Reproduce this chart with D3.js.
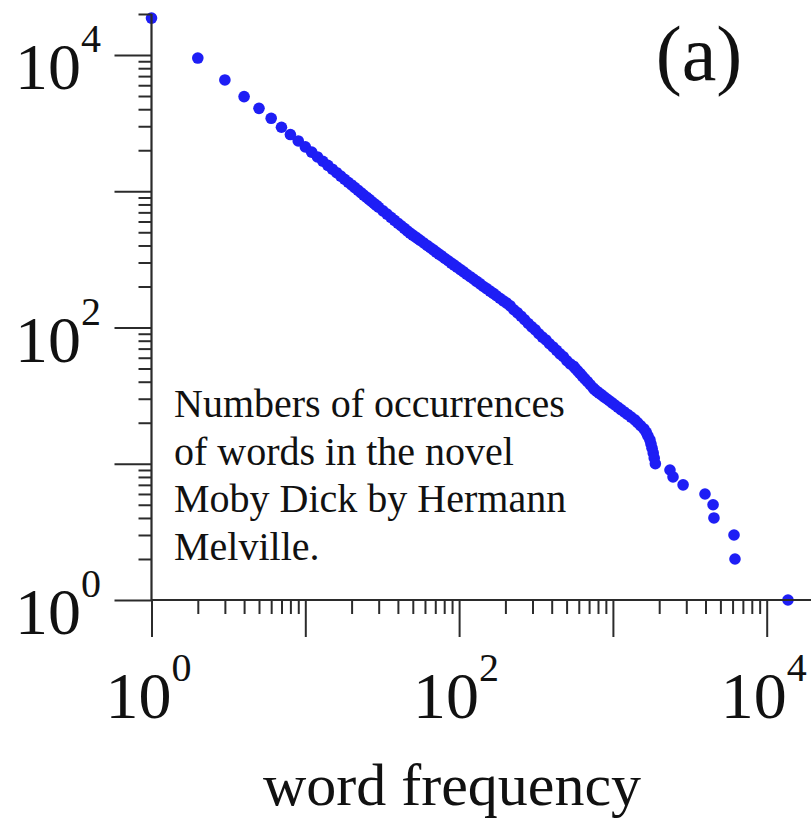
<!DOCTYPE html>
<html>
<head>
<meta charset="utf-8">
<script src="https://cdn.jsdelivr.net/npm/d3@7"></script>
<style>
  html, body { margin: 0; padding: 0; background: #fff; }
  svg { display: block; }
  text { font-family: "Liberation Serif", "DejaVu Serif", serif; fill: #111; }
</style>
</head>
<body>
<svg id="chart" width="811" height="837"></svg>
<script>
// Word frequency x and number of distinct words occurring at least x times (Moby Dick)
const freq = [
  1, 2, 3, 4, 5, 6, 7, 8, 9, 10,
  11, 12, 13, 14, 15, 16, 17, 18, 19, 20,
  21, 22, 23, 24, 25, 26, 27, 28, 29, 30,
  32, 34, 36, 38, 40, 42, 44, 46, 48, 50,
  52, 54, 56, 59, 62, 65, 68, 71, 74, 77,
  81, 85, 89, 93, 97, 102, 107, 112, 118, 124,
  130, 137, 144, 151, 159, 167, 175, 184, 194, 204,
  215, 227, 240, 253, 267, 282, 297, 313, 330, 348,
  367, 387, 408, 430, 453, 477, 502, 528, 555, 571,
  590, 611, 633, 657, 684, 713, 744, 761, 786, 814,
  844, 876, 911, 948, 988, 1031, 1078, 1129, 1185, 1246,
  1314, 1388, 1450, 1517, 1592, 1646, 1690, 1740, 1768, 1797,
  1829, 1857, 1888, 2350, 2460, 2860, 3970, 4480, 4540, 6130,
  6220, 13750
];
const words = [
  18650, 9500, 6560, 4950, 4060, 3430, 2950, 2606, 2339, 2118,
  1937, 1786, 1660, 1549, 1452, 1368, 1292, 1225, 1164, 1112,
  1063, 1018, 976, 938, 904, 871, 841, 813, 787, 763,
  718, 679, 644, 612, 583, 558, 534, 512, 493, 477,
  462, 448, 435, 417, 400, 385, 371, 358, 346, 335,
  321, 309, 297, 287, 277, 266, 256, 246, 236, 227,
  218, 209, 200, 193, 185, 178, 171, 164, 157, 151,
  144, 135, 128, 121, 114, 107, 101, 96, 90, 85,
  81, 76, 72, 68, 64, 61, 57, 54, 52, 50,
  48, 46, 44, 42, 40, 38, 36, 35, 34, 33,
  32, 31, 30, 29, 28, 27, 26, 25, 24, 23,
  22, 21, 20, 19, 18, 17, 16, 15, 14, 13,
  12, 11, 10, 9, 8, 7, 6, 5, 4, 3,
  2, 1
];

// Decades that carry a power-of-ten label
const xLabelDecades = [0, 2, 4];
const yLabelDecades = [0, 2, 4];
const xAxisTitle = "word frequency";
const panelTag = "(a)";
const noteLines = [
  "Numbers of occurrences",
  "of words in the novel",
  "Moby Dick by Hermann",
  "Melville."
];

const svg = d3.select("#chart");
const W = 811;

const x = d3.scaleLog().domain([1, 1e4]).range([151.5, 766.7]);
const y = d3.scaleLog().domain([1, 1e4]).range([600, 55]);

const axisColor = "#2b2b2b";

// minor and major tick values for log axes
function logTicks(lo, hi) {
  const major = [], minor = [];
  for (let e = lo; e <= hi; e++) {
    for (let k = 1; k <= 9; k++) {
      const v = k * Math.pow(10, e);
      if (k === 1) major.push(v); else minor.push(v);
    }
  }
  return { major, minor };
}

const xt = logTicks(0, 3);
xt.major.push(1e4);
const yt = logTicks(0, 3);
yt.major.push(1e4);
yt.minor.push(2e4);

const data = freq.map((f, i) => ({ f, n: words[i] }));

// points
svg.append("g")
  .selectAll("circle")
  .data(data)
  .join("circle")
  .attr("cx", d => x(d.f))
  .attr("cy", d => y(d.n))
  .attr("r", 5.8)
  .attr("fill", "#1e1ef5");

// axes
function styleAxis(g) {
  g.select(".domain").remove();
  g.selectAll(".tick line").attr("stroke", axisColor).attr("stroke-width", 2);
  g.selectAll(".tick text").remove();
}

const x0 = x(1), y0 = y(1);

svg.append("g").attr("transform", `translate(0,${y0})`)
  .call(d3.axisBottom(x).tickValues(xt.minor).tickSize(14).tickFormat(() => ""))
  .call(styleAxis);
svg.append("g").attr("transform", `translate(0,${y0})`)
  .call(d3.axisBottom(x).tickValues(xt.major).tickSize(37).tickFormat(() => ""))
  .call(styleAxis);

const yLin = d3.scaleLog().domain([1, 2e4]).range([600, y(2e4)]);
svg.append("g").attr("transform", `translate(${x0},0)`)
  .call(d3.axisLeft(yLin).tickValues(yt.minor).tickSize(13).tickFormat(() => ""))
  .call(styleAxis);
svg.append("g").attr("transform", `translate(${x0},0)`)
  .call(d3.axisLeft(yLin).tickValues(yt.major).tickSize(37).tickFormat(() => ""))
  .call(styleAxis);

// axis lines
svg.append("line")
  .attr("x1", x0).attr("x2", W).attr("y1", y0).attr("y2", y0)
  .attr("stroke", axisColor).attr("stroke-width", 2.2);
svg.append("line")
  .attr("x1", x0).attr("x2", x0).attr("y1", y0).attr("y2", yLin(2e4))
  .attr("stroke", axisColor).attr("stroke-width", 2.2);

// power-of-ten labels
function powLabel(sel, e) {
  sel.append("tspan").text("10");
  sel.append("tspan").attr("dy", -37).attr("font-size", 40).text(String(e));
}

xLabelDecades.forEach(e => {
  svg.append("text")
    .attr("x", x(Math.pow(10, e)) - 46)
    .attr("y", 718)
    .attr("font-size", 66)
    .attr("text-anchor", "start")
    .call(powLabel, e);
});
yLabelDecades.forEach(e => {
  svg.append("text")
    .attr("x", 101)
    .attr("y", y(Math.pow(10, e)) + 34)
    .attr("font-size", 66)
    .attr("text-anchor", "end")
    .call(powLabel, e);
});

// axis title
svg.append("text")
  .attr("x", 452).attr("y", 805)
  .attr("font-size", 60)
  .attr("text-anchor", "middle")
  .text(xAxisTitle);

// panel tag
svg.append("text")
  .attr("x", 699).attr("y", 80)
  .attr("font-size", 78)
  .attr("text-anchor", "middle")
  .text(panelTag);

// annotation
svg.append("g").selectAll("text")
  .data(noteLines)
  .join("text")
  .attr("x", 174)
  .attr("y", (d, i) => 417 + i * 47.7)
  .attr("font-size", 40)
  .text(d => d);
</script>
</body>
</html>
